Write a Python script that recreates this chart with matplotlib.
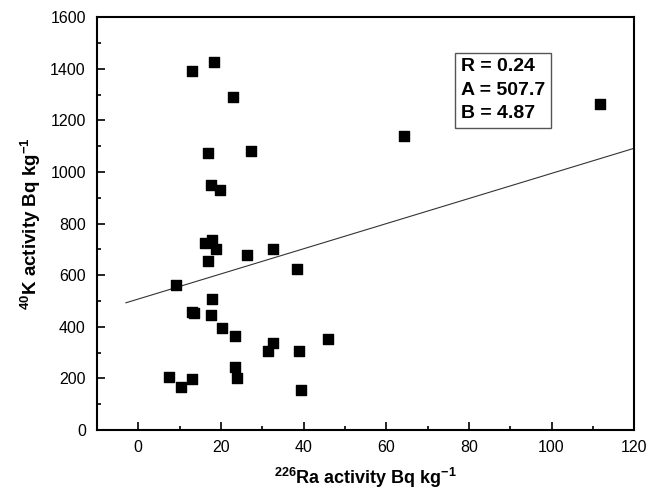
import matplotlib.pyplot as plt
import numpy as np
from matplotlib.ticker import MultipleLocator

plt.rcParams['font.family'] = ['Liberation Sans', 'DejaVu Sans']
plt.rcParams['mathtext.fontset'] = 'custom'
plt.rcParams['mathtext.rm'] = 'Liberation Sans:bold'
plt.rcParams['mathtext.bf'] = 'Liberation Sans:bold'

# 226Ra vs 40K activity (Bq/kg)
ra226 = [13.1, 18.4, 22.8, 16.9, 27.3, 17.5, 19.7, 17.9, 16.2, 18.7, 32.7,
         26.2, 16.9, 38.5, 9.1, 17.9, 12.9, 13.4, 17.6, 20.2, 23.5, 32.7,
         31.3, 38.9, 45.8, 7.5, 10.3, 12.9, 23.3, 23.8, 39.3, 64.2, 111.8]
k40 = [1391, 1425, 1292, 1074, 1080, 948, 931, 736, 723, 701, 701,
       680, 655, 624, 562, 507, 456, 454, 445, 397, 364, 338,
       306, 305, 353, 204, 168, 198, 243, 200, 155, 1140, 1263]

# linear fit parameters shown in the box
R, A, B = 0.24, 507.7, 4.87
fit_x = np.array([-3, 120])

fig = plt.figure(figsize=(6.62, 4.92), dpi=100)
ax = fig.add_axes([0.1465, 0.126, 0.8115, 0.839])

ax.scatter(ra226, k40, marker='s', s=60, color='black', zorder=3)
ax.plot(fit_x, A + B * fit_x, color='#333333', lw=0.8)

ax.set_xlim(-10, 120)
ax.set_ylim(0, 1600)
ax.xaxis.set_major_locator(MultipleLocator(20))
ax.xaxis.set_minor_locator(MultipleLocator(10))
ax.yaxis.set_major_locator(MultipleLocator(200))
ax.yaxis.set_minor_locator(MultipleLocator(100))
ax.tick_params(which='both', direction='in', labelsize=11.5, width=1.2)
ax.tick_params(which='major', length=6)
ax.tick_params(which='minor', length=3)
ax.tick_params(axis='x', pad=7)
ax.tick_params(axis='y', pad=8)
for s in ax.spines.values():
    s.set_linewidth(1.5)

ax.set_xlabel(r'$^{226}$Ra activity Bq kg$^{-1}$', fontsize=13, fontweight='bold', labelpad=8)
ax.set_ylabel(r'$^{40}$K activity Bq kg$^{-1}$', fontsize=13.5, fontweight='bold', labelpad=5)

ax.text(0.677, 0.9, f'R = {R}\nA = {A}\nB = {B}', transform=ax.transAxes,
        fontsize=14, fontweight='bold', va='top', ha='left', linespacing=1.5,
        bbox=dict(boxstyle='square,pad=0.3', fc='white', ec='#555555', lw=1))

fig.savefig('out.png', dpi=100)
